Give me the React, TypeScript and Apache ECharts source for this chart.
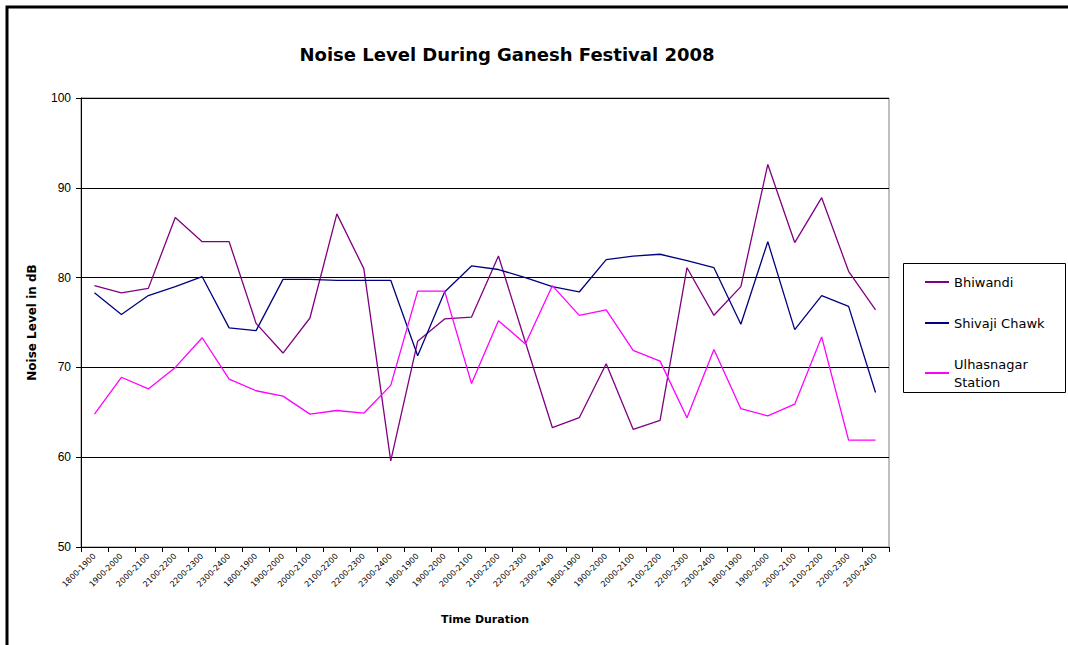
import React, { useEffect, useRef } from "react";
import * as echarts from "echarts";

const slots = ["1800-1900", "1900-2000", "2000-2100", "2100-2200", "2200-2300", "2300-2400"];
const categories: string[] = [...slots, ...slots, ...slots, ...slots, ...slots];

const bhiwandi = [
  79.1, 78.3, 78.8, 86.7, 84.0, 84.0, 74.9, 71.6, 75.5, 87.1,
  81.0, 59.6, 72.9, 75.4, 75.6, 82.4, 72.8, 63.3, 64.4, 70.4,
  63.1, 64.1, 81.1, 75.8, 79.0, 92.6, 83.9, 88.9, 80.7, 76.4,
];
const shivajiChawk = [
  78.3, 75.9, 78.0, 79.0, 80.1, 74.4, 74.1, 79.8, 79.8, 79.7,
  79.7, 79.7, 71.3, 78.4, 81.3, 80.9, 80.0, 79.0, 78.4, 82.0,
  82.4, 82.6, 81.9, 81.1, 74.8, 84.0, 74.2, 78.0, 76.8, 67.2,
];
const ulhasnagarStation = [
  64.8, 68.9, 67.6, 70.0, 73.3, 68.7, 67.4, 66.8, 64.8, 65.2,
  64.9, 68.0, 78.5, 78.5, 68.2, 75.2, 72.6, 79.1, 75.8, 76.4,
  71.9, 70.7, 64.4, 72.0, 65.4, 64.6, 65.9, 73.4, 61.9, 61.9,
];

const seriesNames = ["Bhiwandi", "Shivaji Chawk", "Ulhasnagar\nStation"];
const seriesColors = ["#800080", "#000080", "#FF00FF"];
const seriesData = [bhiwandi, shivajiChawk, ulhasnagarStation];

export default function App() {
  const ref = useRef<HTMLDivElement>(null);
  useEffect(() => {
    document.body.style.margin = "0";
    const chart = echarts.init(ref.current!, undefined, { renderer: "svg" });
    chart.setOption({
      animation: false,
      backgroundColor: "#fff",
      title: {
        text: "Noise Level During Ganesh Festival 2008",
        left: 502,
        textAlign: "center",
        top: 40,
        textStyle: { fontFamily: "DejaVu Sans", fontWeight: "bold", fontSize: 18, color: "#000" },
      },
      graphic: [
        {
          type: "rect",
          shape: { x: 7, y: 7, width: 1120, height: 700 },
          style: { fill: "none", stroke: "#000", lineWidth: 3 },
          silent: true,
        },
        {
          type: "rect",
          shape: { x: 903.5, y: 263.5, width: 162, height: 129 },
          style: { fill: "none", stroke: "#000", lineWidth: 1 },
          silent: true,
        },
      ],
      legend: {
        orient: "vertical",
        left: 920,
        top: 268,
        itemWidth: 24,
        itemHeight: 2,
        itemGap: 23,
        itemTextGap: 7,
        icon: "rect",
        data: seriesNames,
        textStyle: { fontFamily: "DejaVu Sans", fontSize: 13, color: "#000", lineHeight: 18 },
      },
      grid: {
        left: 81,
        top: 98,
        right: 179,
        bottom: 98,
        show: true,
        borderColor: "#808080",
        borderWidth: 1,
      },
      xAxis: {
        type: "category",
        data: categories,
        boundaryGap: true,
        name: "Time Duration",
        nameLocation: "middle",
        nameGap: 67,
        nameTextStyle: { fontFamily: "DejaVu Sans", fontWeight: "bold", fontSize: 11, color: "#000" },
        axisLine: { lineStyle: { color: "#000", width: 1 } },
        axisTick: { show: true, length: 5, lineStyle: { color: "#000" } },
        axisLabel: {
          interval: 0,
          rotate: 45,
          fontFamily: "DejaVu Sans",
          fontSize: 8,
          color: "#000",
          margin: 8,
        },
        splitLine: { show: false },
      },
      yAxis: {
        type: "value",
        min: 50,
        max: 100,
        interval: 10,
        name: "Noise Level in dB",
        nameLocation: "middle",
        nameGap: 43,
        nameTextStyle: { fontFamily: "DejaVu Sans", fontWeight: "bold", fontSize: 12, color: "#000" },
        axisLine: { show: true, lineStyle: { color: "#000", width: 1 } },
        axisTick: { show: true, length: 5, lineStyle: { color: "#000" } },
        axisLabel: { fontFamily: "Liberation Sans", fontSize: 12, color: "#000", margin: 10 },
        splitLine: { show: true, lineStyle: { color: "#000", width: 1 } },
      },
      series: seriesData.map((d, i) => ({
        name: seriesNames[i],
        type: "line",
        data: d,
        symbol: "none",
        lineStyle: { color: seriesColors[i], width: 1.3 },
        itemStyle: { color: seriesColors[i] },
      })),
    });
    return () => chart.dispose();
  }, []);
  return <div ref={ref} style={{ width: 1068, height: 645 }} />;
}
